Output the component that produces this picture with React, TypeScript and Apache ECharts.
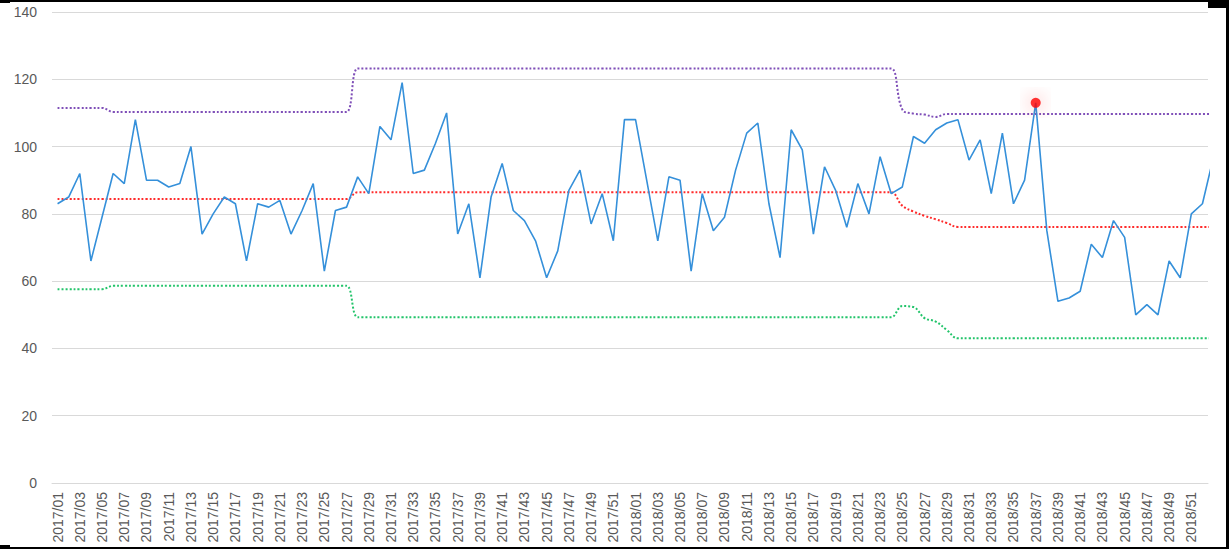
import React, { useEffect, useRef } from "react";
import * as echarts from "echarts";

// Weekly categories 2017/01 .. 2018/52, plus 2019/01 (only its incoming segment is visible, clipped)
const years = ["2017", "2018"];
const weeks: string[] = [];
for (const y of years) {
  for (let w = 1; w <= 52; w++) weeks.push(`${y}/${w < 10 ? "0" + w : w}`);
}
weeks.push("2019/01");

const values = [
  83, 85, 92, 66, 79, 92, 89, 108, 90, 90,
  88, 89, 100, 74, 80, 85, 83, 66, 83, 82,
  84, 74, 81, 89, 63, 81, 82, 91, 86, 106,
  102, 119, 92, 93, 101, 110, 74, 83, 61, 85,
  95, 81, 78, 72, 61, 69, 87, 93, 77, 86,
  72, 108, 108, 90, 72, 91, 90, 63, 86, 75,
  79, 93, 104, 107, 83, 67, 105, 99, 74, 94,
  87, 76, 89, 80, 97, 86, 88, 103, 101, 105,
  107, 108, 96, 102, 86, 104, 83, 90, 113, 75,
  54, 55, 57, 71, 67, 78, 73, 50, 53, 50,
  66, 61, 80, 83, 97,
];

const ucl = [
  111.5, 111.5, 111.5, 111.5, 111.5, 110.3, 110.3, 110.3, 110.3, 110.3,
  110.3, 110.3, 110.3, 110.3, 110.3, 110.3, 110.3, 110.3, 110.3, 110.3,
  110.3, 110.3, 110.3, 110.3, 110.3, 110.3, 110.3, 123.2, 123.2, 123.2,
  123.2, 123.2, 123.2, 123.2, 123.2, 123.2, 123.2, 123.2, 123.2, 123.2,
  123.2, 123.2, 123.2, 123.2, 123.2, 123.2, 123.2, 123.2, 123.2, 123.2,
  123.2, 123.2, 123.2, 123.2, 123.2, 123.2, 123.2, 123.2, 123.2, 123.2,
  123.2, 123.2, 123.2, 123.2, 123.2, 123.2, 123.2, 123.2, 123.2, 123.2,
  123.2, 123.2, 123.2, 123.2, 123.2, 123.2, 111.0, 109.8, 109.5, 108.8,
  109.7, 109.7, 109.7, 109.7, 109.7, 109.7, 109.7, 109.7, 109.7, 109.7,
  109.7, 109.7, 109.7, 109.7, 109.7, 109.7, 109.7, 109.7, 109.7, 109.7,
  109.7, 109.7, 109.7, 109.7, 109.7,
];

const cl = [
  84.4, 84.4, 84.4, 84.4, 84.4, 84.4, 84.4, 84.4, 84.4, 84.4,
  84.4, 84.4, 84.4, 84.4, 84.4, 84.4, 84.4, 84.4, 84.4, 84.4,
  84.4, 84.4, 84.4, 84.4, 84.4, 84.4, 84.4, 86.4, 86.4, 86.4,
  86.4, 86.4, 86.4, 86.4, 86.4, 86.4, 86.4, 86.4, 86.4, 86.4,
  86.4, 86.4, 86.4, 86.4, 86.4, 86.4, 86.4, 86.4, 86.4, 86.4,
  86.4, 86.4, 86.4, 86.4, 86.4, 86.4, 86.4, 86.4, 86.4, 86.4,
  86.4, 86.4, 86.4, 86.4, 86.4, 86.4, 86.4, 86.4, 86.4, 86.4,
  86.4, 86.4, 86.4, 86.4, 86.4, 86.4, 82.4, 80.7, 79.4, 78.4,
  77.3, 76.1, 76.1, 76.1, 76.1, 76.1, 76.1, 76.1, 76.1, 76.1,
  76.1, 76.1, 76.1, 76.1, 76.1, 76.1, 76.1, 76.1, 76.1, 76.1,
  76.1, 76.1, 76.1, 76.1, 76.1,
];

const lcl = [
  57.6, 57.6, 57.6, 57.6, 57.6, 58.6, 58.6, 58.6, 58.6, 58.6,
  58.6, 58.6, 58.6, 58.6, 58.6, 58.6, 58.6, 58.6, 58.6, 58.6,
  58.6, 58.6, 58.6, 58.6, 58.6, 58.6, 58.6, 49.3, 49.3, 49.3,
  49.3, 49.3, 49.3, 49.3, 49.3, 49.3, 49.3, 49.3, 49.3, 49.3,
  49.3, 49.3, 49.3, 49.3, 49.3, 49.3, 49.3, 49.3, 49.3, 49.3,
  49.3, 49.3, 49.3, 49.3, 49.3, 49.3, 49.3, 49.3, 49.3, 49.3,
  49.3, 49.3, 49.3, 49.3, 49.3, 49.3, 49.3, 49.3, 49.3, 49.3,
  49.3, 49.3, 49.3, 49.3, 49.3, 49.3, 52.6, 52.3, 49.0, 48.0,
  45.5, 43.0, 43.0, 43.0, 43.0, 43.0, 43.0, 43.0, 43.0, 43.0,
  43.0, 43.0, 43.0, 43.0, 43.0, 43.0, 43.0, 43.0, 43.0, 43.0,
  43.0, 43.0, 43.0, 43.0, 43.0,
];

const yTicks = { min: 0, max: 140, interval: 20 };

// Points outside the control limits are highlighted
const outOfControl = values.map((v, i) => (v > ucl[i] || v < lcl[i] ? v : null));

export default function App() {
  const ref = useRef<HTMLDivElement>(null);

  useEffect(() => {
    const chart = echarts.init(ref.current!, null, { renderer: "svg" });
    const labelFont = "'Liberation Sans', Arial, sans-serif";
    const dotted = (color: string, data: number[]) => ({
      type: "line",
      data,
      smooth: 0.4,
      showSymbol: false,
      symbol: "none",
      z: 2,
      lineStyle: { color, width: 2, type: [2, 2] },
    });
    chart.setOption({
      animation: false,
      backgroundColor: "#ffffff",
      grid: { left: 52, right: 21, top: 12, bottom: 66, containLabel: false },
      xAxis: {
        type: "category",
        data: weeks,
        boundaryGap: true,
        min: 0,
        max: 103,
        axisLine: { show: true, lineStyle: { color: "#d9d9d9", width: 1 } },
        axisTick: { show: false },
        axisLabel: {
          interval: 1,
          rotate: 90,
          margin: 9,
          color: "#595959",
          fontSize: 14,
          fontFamily: labelFont,
        },
        splitLine: { show: false },
      },
      yAxis: {
        type: "value",
        min: yTicks.min,
        max: yTicks.max,
        interval: yTicks.interval,
        axisLine: { show: false },
        axisTick: { show: false },
        axisLabel: { color: "#595959", fontSize: 14, fontFamily: labelFont, margin: 15 },
        splitLine: { lineStyle: { color: "#d9d9d9", width: 1 } },
      },
      series: [
        dotted("#7f4fb8", ucl),
        dotted("#ff2b2b", cl),
        dotted("#22c46a", lcl),
        {
          type: "line",
          data: values,
          showSymbol: false,
          symbol: "none",
          z: 3,
          lineStyle: { color: "#3590da", width: 1.6 },
        },
        {
          type: "scatter",
          data: outOfControl,
          symbol: "circle",
          symbolSize: 10,
          z: 4,
          itemStyle: {
            color: "#ff0000",
            shadowBlur: 18,
            shadowColor: "rgba(255,0,0,0.6)",
          },
        },
      ],
    });
    return () => chart.dispose();
  }, []);

  return (
    <div style={{ position: "absolute", left: 0, top: 0, width: 1229, height: 549, background: "#fff" }}>
      <div ref={ref} style={{ width: 1229, height: 549 }} />
      <div
        style={{
          position: "absolute",
          left: 0,
          top: 0,
          width: 1229,
          height: 549,
          boxSizing: "border-box",
          borderTop: "2px solid #000",
          borderRight: "3px solid #000",
          borderBottom: "2px solid #000",
          pointerEvents: "none",
        }}
      />
      <div style={{ position: "absolute", left: 1208, top: 0, width: 21, height: 8, background: "#000" }} />
      <div style={{ position: "absolute", left: 0, top: 0, width: 10, height: 3, background: "#000" }} />
      <div style={{ position: "absolute", left: 0, top: 545, width: 10, height: 4, background: "#000" }} />
    </div>
  );
}
